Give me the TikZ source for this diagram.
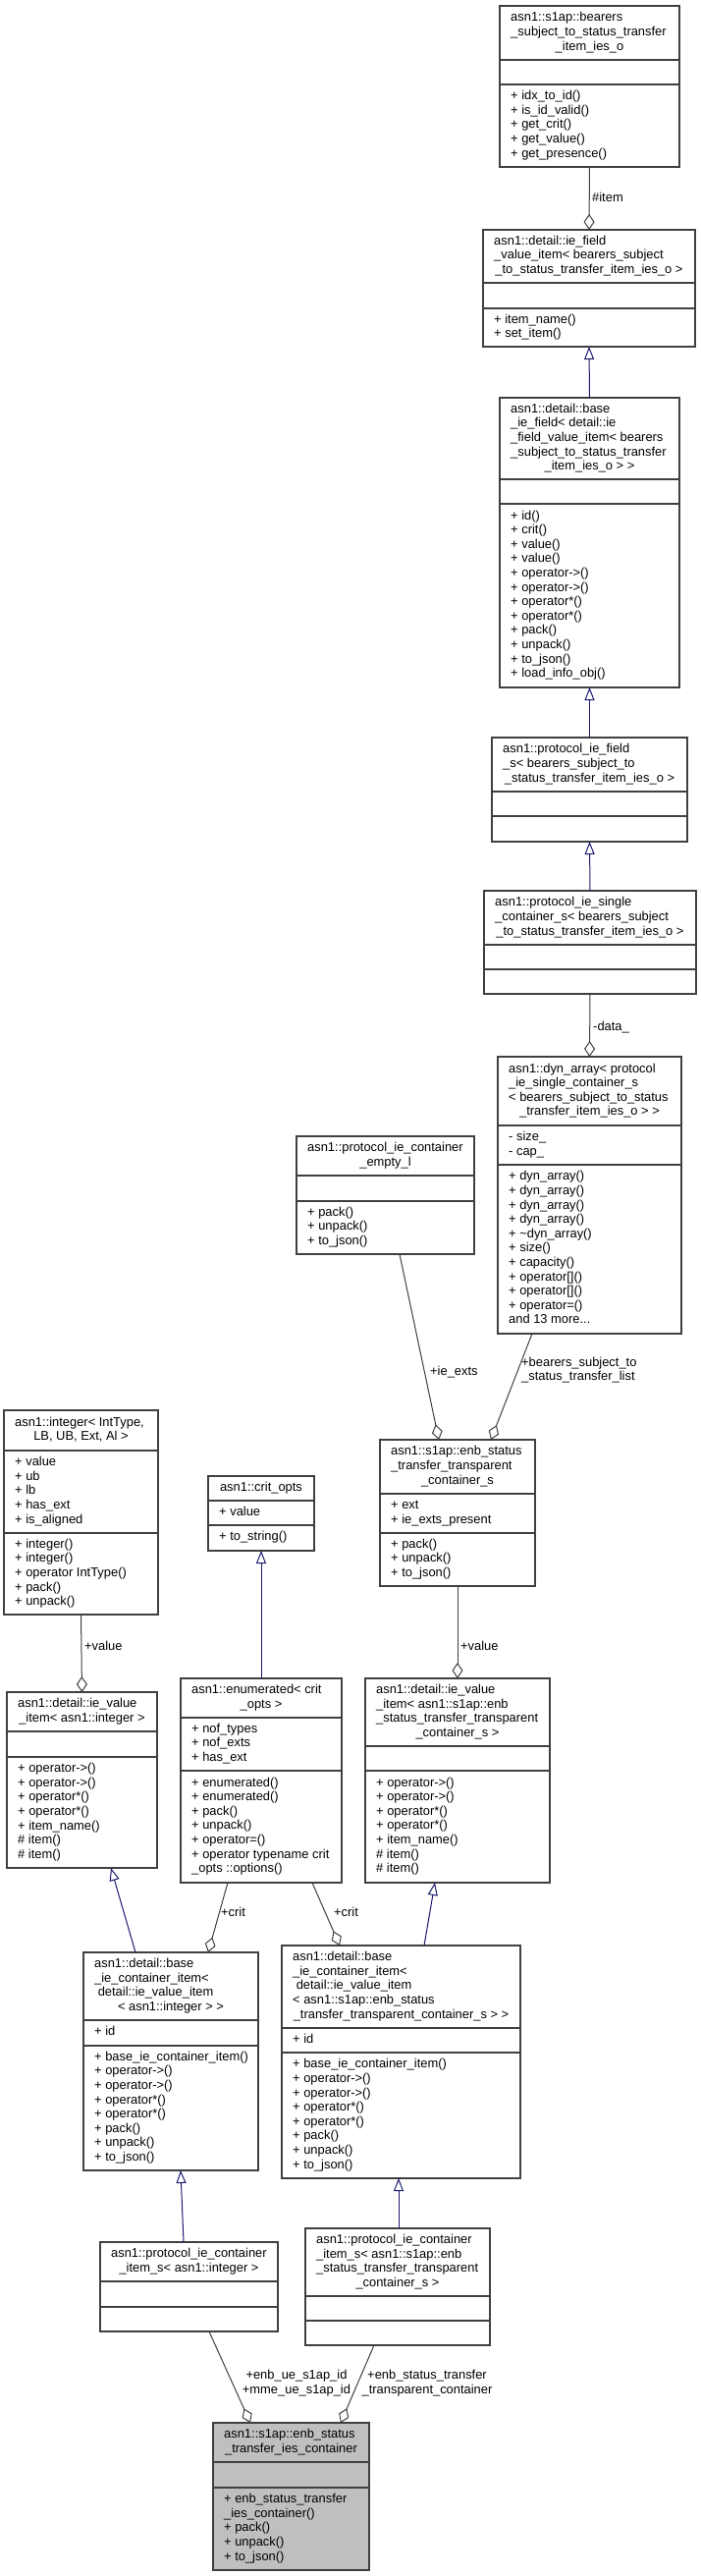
\documentclass[tikz,border=0pt]{standalone}
\usepackage{fontspec}
\setmainfont{Liberation Sans}
\usetikzlibrary{arrows.meta,calc}
\definecolor{inhc}{HTML}{191970}
\definecolor{aggc}{HTML}{404040}
\definecolor{boxc}{HTML}{404040}
\definecolor{fillc}{HTML}{BFBFBF}
% #1 name, #2 x1, #3 y1, #4 x2, #5 y2, #6 divider1, #7 divider2, #8 fill
\newcommand\clbox[8]{%
  \node[ubx, fill=#8, minimum width={#4pt-#2pt}, minimum height={#5pt-#3pt}, anchor=north west] (#1) at (#2,#3) {};
  \draw[ubl] (#2,#6) -- (#4,#6);
  \draw[ubl] (#2,#7) -- (#4,#7);}
% #1 name, #2 x1, #3 x2, #4 ytop, #5 ybot, #6 n lines, #7 left lines, #8 centered last line
\newcommand\cltitle[8]{%
  \node[txt, anchor=west] (#1a) at ({#2+11},{(#4+#5)/2-7.3}) {\begin{tabular}{@{}l@{}}#7\end{tabular}};
  \node[txt] (#1b) at ({(#2+#3)/2},{(#4+#5)/2+(#6-1)*7.3}) {#8\strut};}
% single centered line
\newcommand\clline[6]{%
  \node[txt] (#1) at ({(#2+#3)/2},{(#4+#5)/2}) {#6\strut};}
% #1 name, #2 x1, #3 ytop, #4 ybot, #5 lines
\newcommand\clmem[5]{%
  \node[txt, anchor=west] (#1) at ({#2+11},{(#3+#4)/2}) {\begin{tabular}{@{}l@{}}#5\end{tabular}};}
\begin{document}
\begin{tikzpicture}[x=1pt,y=-1pt,
 ubx/.style={draw=boxc, line width=1.2pt, inner sep=0pt, outer sep=0pt},
 ubl/.style={draw=boxc, line width=1.2pt},
 txt/.style={font=\fontsize{12.9}{14.6}\selectfont, inner sep=0pt, text=black},
 inh/.style={draw=inhc, line width=1pt, -{Triangle[open,length=13pt,width=10pt]}},
 agg/.style={draw=aggc, line width=1pt, -{Diamond[open,length=16pt,width=11pt]}},
 lbl/.style={txt, anchor=west}]
\fill[white] (0,0) rectangle (714,2623);
\useasboundingbox (0,0) rectangle (714,2623);

% b1 bearers_subject_to_status_transfer_item_ies_o
\clbox{b1}{509}{6}{692}{170}{61}{86}{white}
\cltitle{b1t}{509}{692}{6}{61}{3}{asn1::s1ap::bearers\\\_subject\_to\_status\_transfer}{\_item\_ies\_o}
\clmem{b1m}{509}{86}{170}{+ idx\_to\_id()\\+ is\_id\_valid()\\+ get\_crit()\\+ get\_value()\\+ get\_presence()}

% b2 ie_field_value_item
\clbox{b2}{492}{234}{708}{353}{288}{314}{white}
\cltitle{b2t}{492}{708}{234}{288}{3}{asn1::detail::ie\_field\\\_value\_item< bearers\_subject}{\_to\_status\_transfer\_item\_ies\_o >}
\clmem{b2m}{492}{314}{353}{+ item\_name()\\+ set\_item()}

% b3 base_ie_field
\clbox{b3}{509}{405}{692}{700}{488}{513}{white}
\cltitle{b3t}{509}{692}{405}{488}{5}{asn1::detail::base\\\_ie\_field< detail::ie\\\_field\_value\_item< bearers\\\_subject\_to\_status\_transfer}{\_item\_ies\_o > >}
\clmem{b3m}{509}{513}{700}{+ id()\\+ crit()\\+ value()\\+ value()\\+ operator->()\\+ operator->()\\+ operator*()\\+ operator*()\\+ pack()\\+ unpack()\\+ to\_json()\\+ load\_info\_obj()}

% b4 protocol_ie_field_s
\clbox{b4}{501}{751}{700}{857}{806}{831}{white}
\cltitle{b4t}{501}{700}{751}{806}{3}{asn1::protocol\_ie\_field\\\_s< bearers\_subject\_to}{\_status\_transfer\_item\_ies\_o >}

% b5 protocol_ie_single_container_s
\clbox{b5}{493}{907}{709}{1012}{962}{987}{white}
\cltitle{b5t}{493}{709}{907}{962}{3}{asn1::protocol\_ie\_single\\\_container\_s< bearers\_subject}{\_to\_status\_transfer\_item\_ies\_o >}

% b6 dyn_array
\clbox{b6}{507}{1076}{694}{1358}{1146}{1186}{white}
\cltitle{b6t}{507}{694}{1076}{1146}{4}{asn1::dyn\_array< protocol\\\_ie\_single\_container\_s\\< bearers\_subject\_to\_status}{\_transfer\_item\_ies\_o > >}
\clmem{b6a}{507}{1146}{1186}{- size\_\\- cap\_}
\clmem{b6m}{507}{1186}{1358}{+ dyn\_array()\\+ dyn\_array()\\+ dyn\_array()\\+ dyn\_array()\\+ \textasciitilde dyn\_array()\\+ size()\\+ capacity()\\+ operator[]()\\+ operator[]()\\+ operator=()\\and 13 more...}

% b7 protocol_ie_container_empty_l
\clbox{b7}{302}{1157}{483}{1277}{1197}{1223}{white}
\cltitle{b7t}{302}{483}{1157}{1197}{2}{asn1::protocol\_ie\_container}{\_empty\_l}
\clmem{b7m}{302}{1223}{1277}{+ pack()\\+ unpack()\\+ to\_json()}

% b8 integer
\clbox{b8}{4}{1436}{161}{1644}{1477}{1561}{white}
\cltitle{b8t}{4}{161}{1436}{1477}{2}{asn1::integer< IntType,}{LB, UB, Ext, Al >}
\clmem{b8a}{4}{1477}{1561}{+ value\\+ ub\\+ lb\\+ has\_ext\\+ is\_aligned}
\clmem{b8m}{4}{1561}{1644}{+ integer()\\+ integer()\\+ operator IntType()\\+ pack()\\+ unpack()}

% b9 enb_status_transfer_transparent_container_s
\clbox{b9}{387}{1466}{545}{1615}{1521}{1561}{white}
\cltitle{b9t}{387}{545}{1466}{1521}{3}{asn1::s1ap::enb\_status\\\_transfer\_transparent}{\_container\_s}
\clmem{b9a}{387}{1521}{1561}{+ ext\\+ ie\_exts\_present}
\clmem{b9m}{387}{1561}{1615}{+ pack()\\+ unpack()\\+ to\_json()}

% b11 crit_opts
\clbox{b11}{212}{1503}{320}{1579}{1528}{1553}{white}
\clline{b11t}{212}{320}{1503}{1528}{asn1::crit\_opts}
\clmem{b11a}{212}{1528}{1553}{+ value}
\clmem{b11m}{212}{1553}{1579}{+ to\_string()}

% b10 ie_value_item< integer >
\clbox{b10}{7}{1723}{160}{1902}{1763}{1789}{white}
\cltitle{b10t}{7}{160}{1723}{1763}{2}{asn1::detail::ie\_value}{\_item< asn1::integer >}
\clmem{b10m}{7}{1789}{1902}{+ operator->()\\+ operator->()\\+ operator*()\\+ operator*()\\+ item\_name()\\\# item()\\\# item()}

% b13 enumerated
\clbox{b13}{184}{1709}{348}{1917}{1749}{1803}{white}
\cltitle{b13t}{184}{348}{1709}{1749}{2}{asn1::enumerated< crit}{\_opts >}
\clmem{b13a}{184}{1749}{1803}{+ nof\_types\\+ nof\_exts\\+ has\_ext}
\clmem{b13m}{184}{1803}{1917}{+ enumerated()\\+ enumerated()\\+ pack()\\+ unpack()\\+ operator=()\\+ operator typename crit\\\_opts ::options()}

% b12 ie_value_item< enb ... >
\clbox{b12}{372}{1709}{560}{1917}{1778}{1803}{white}
\cltitle{b12t}{372}{560}{1709}{1778}{4}{asn1::detail::ie\_value\\\_item< asn1::s1ap::enb\\\_status\_transfer\_transparent}{\_container\_s >}
\clmem{b12m}{372}{1803}{1917}{+ operator->()\\+ operator->()\\+ operator*()\\+ operator*()\\+ item\_name()\\\# item()\\\# item()}

% b14 base_ie_container_item< integer >
\clbox{b14}{85}{1988}{263}{2210}{2057}{2083}{white}
\cltitle{b14t}{85}{263}{1988}{2057}{4}{asn1::detail::base\\\_ie\_container\_item<\\\ detail::ie\_value\_item}{< asn1::integer > >}
\clmem{b14a}{85}{2057}{2083}{+ id}
\clmem{b14m}{85}{2083}{2210}{+ base\_ie\_container\_item()\\+ operator->()\\+ operator->()\\+ operator*()\\+ operator*()\\+ pack()\\+ unpack()\\+ to\_json()}

% b15 base_ie_container_item< enb ... >
\clbox{b15}{287}{1981}{530}{2218}{2065}{2090}{white}
\cltitle{b15t}{287}{530}{1981}{2065}{5}{asn1::detail::base\\\_ie\_container\_item<\\\ detail::ie\_value\_item\\< asn1::s1ap::enb\_status}{\_transfer\_transparent\_container\_s > >}
\clmem{b15a}{287}{2065}{2090}{+ id}
\clmem{b15m}{287}{2090}{2218}{+ base\_ie\_container\_item()\\+ operator->()\\+ operator->()\\+ operator*()\\+ operator*()\\+ pack()\\+ unpack()\\+ to\_json()}

% b16 protocol_ie_container_item_s< integer >
\clbox{b16}{102}{2283}{283}{2374}{2323}{2349}{white}
\cltitle{b16t}{102}{283}{2283}{2323}{2}{asn1::protocol\_ie\_container}{\_item\_s< asn1::integer >}

% b17 protocol_ie_container_item_s< enb ... >
\clbox{b17}{311}{2269}{499}{2388}{2338}{2363}{white}
\cltitle{b17t}{311}{499}{2269}{2338}{4}{asn1::protocol\_ie\_container\\\_item\_s< asn1::s1ap::enb\\\_status\_transfer\_transparent}{\_container\_s >}

% b18 enb_status_transfer_ies_container
\clbox{b18}{217}{2467}{376}{2617}{2507}{2533}{fillc}
\cltitle{b18t}{217}{376}{2467}{2507}{2}{asn1::s1ap::enb\_status}{\_transfer\_ies\_container}
\clmem{b18m}{217}{2533}{2617}{+ enb\_status\_transfer\\\_ies\_container()\\+ pack()\\+ unpack()\\+ to\_json()}

% connectors
\draw[agg] (b1.south) -- (b2.north);
\node[lbl] (l1) at (603,201) {\#item};
\draw[inh] (b3.north) -- (b2.south);
\draw[inh] (b4.north) -- (b3.south);
\draw[inh] (b5.north) -- (b4.south);
\draw[agg] (b5.south) -- (b6.north);
\node[lbl] (l2) at (604,1046) {-data\_};
\draw[agg] ($(b7.south west)+(105,0)$) -- ($(b9.north west)+(60,0)$);
\node[lbl] (l3) at (438,1397) {+ie\_exts};
\draw[agg] ($(b6.south west)+(35,0)$) -- ($(b9.north west)+(113,0)$);
\node[lbl] (l4) at (531,1395.5) {\begin{tabular}{@{}l@{}}+bearers\_subject\_to\\\_status\_transfer\_list\end{tabular}};
\draw[agg] (b8.south) -- (b10.north);
\node[lbl] (l5) at (86,1676) {+value};
\draw[agg] (b9.south) -- (b12.north);
\node[lbl] (l6) at (469,1676) {+value};
\draw[inh] (b13.north) -- (b11.south);
\draw[agg] ($(b13.south west)+(48,0)$) -- ($(b14.north west)+(127,0)$);
\node[lbl] (l7) at (225,1947) {+crit};
\draw[agg] ($(b13.south west)+(134,0)$) -- ($(b15.north west)+(59,0)$);
\node[lbl] (l8) at (340,1947) {+crit};
\draw[inh] ($(b14.north west)+(53,0)$) -- ($(b10.south west)+(106,0)$);
\draw[inh] ($(b15.north west)+(145,0)$) -- ($(b12.south west)+(71,0)$);
\draw[inh] ($(b16.north west)+(85,0)$) -- ($(b14.south west)+(99,0)$);
\draw[inh] ($(b17.north west)+(95,0)$) -- ($(b15.south west)+(119,0)$);
\draw[agg] ($(b16.south west)+(111,0)$) -- ($(b18.north west)+(38,0)$);
\draw[agg] ($(b17.south west)+(70,0)$) -- ($(b18.north west)+(130,0)$);
\node[txt] (l9) at (302,2427) {\begin{tabular}{@{}c@{}}+enb\_ue\_s1ap\_id\\+mme\_ue\_s1ap\_id\end{tabular}};
\node[txt] (l10) at (435,2427) {\begin{tabular}{@{}c@{}}+enb\_status\_transfer\\\_transparent\_container\end{tabular}};
\end{tikzpicture}
\end{document}
